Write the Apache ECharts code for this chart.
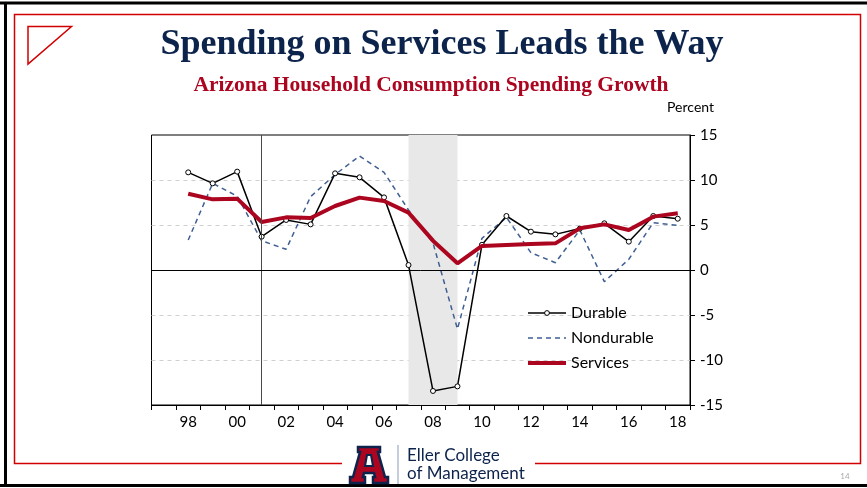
<!DOCTYPE html>
<html><head><meta charset="utf-8">
<script src="https://cdn.jsdelivr.net/npm/echarts@6/dist/echarts.min.js"></script>
<style>html,body{margin:0;padding:0;background:#fff}#c{width:867px;height:488px}</style>
</head><body><div id="c"></div>
<script>
const years = ['1997','1998','1999','2000','2001','2002','2003','2004','2005','2006','2007','2008','2009','2010','2011','2012','2013','2014','2015','2016','2017','2018'];
const durable = ['-', 10.85, 9.63, 10.93, 3.7, 5.56, 5.07, 10.74, 10.3, 8.07, 0.55, -13.44, -12.93, 2.8, 6.0, 4.26, 3.96, 4.6, 5.19, 3.15, 6.0, 5.7];
const nondurable = ['-', 3.33, 9.63, 8.2, 3.26, 2.3, 8.15, 10.6, 12.67, 10.85, 6.67, 3.0, -6.56, 3.52, 5.85, 1.93, 0.81, 4.44, -1.3, 1.19, 5.26, 4.96];
const services = ['-', 8.48, 7.85, 7.93, 5.33, 5.85, 5.78, 7.11, 8.04, 7.67, 6.37, 3.26, 0.74, 2.67, 2.78, 2.89, 2.96, 4.63, 5.07, 4.44, 5.93, 6.3];
const recession = ['2007', '2009'];
const markerYear = '2001';
const titleText = 'Spending on Services Leads the Way';
const subtitleText = 'Arizona Household Consumption Spending Growth';

const NAVY = '#0C234B', RED = '#AB0520', FRAME = '#d20000', BLUE = '#3f5f92';
const chart = echarts.init(document.getElementById('c'), null, {renderer: 'canvas'});
const sansFont = 'Lato';

chart.setOption({
  animation: false,
  backgroundColor: '#fff',
  grid: {left: 151.5, right: 177, top: 135, bottom: 83, show: true, borderColor: '#000', borderWidth: 1, containLabel: false},
  xAxis: {
    type: 'category', data: years, boundaryGap: true,
    axisLine: {show: true, onZero: false, lineStyle: {color: '#000', width: 1}},
    axisTick: {show: true, interval: 0, length: 5, lineStyle: {color: '#000'}},
    axisLabel: {interval: (i) => i % 2 === 1, formatter: (v) => v.slice(2), color: '#000', fontSize: 15, fontFamily: sansFont, margin: 10},
    splitLine: {show: false}
  },
  yAxis: {
    type: 'value', position: 'right', min: -15, max: 15, interval: 5,
    axisLine: {show: true, onZero: false, lineStyle: {color: '#000', width: 1}},
    axisTick: {show: true, length: 5, lineStyle: {color: '#000'}},
    axisLabel: {color: '#000', fontSize: 15, fontFamily: sansFont, margin: 10},
    splitLine: {show: true, lineStyle: {color: ['rgba(0,0,0,0)', '#cfcfcf', '#cfcfcf', 'rgba(0,0,0,0)', '#cfcfcf', '#cfcfcf', 'rgba(0,0,0,0)'], type: [4, 4], width: 1}}
  },
  legend: {
    orient: 'vertical', left: 521, top: 300, itemWidth: 38, itemHeight: 6, itemGap: 9,
    textStyle: {fontSize: 16, color: '#000', fontFamily: sansFont},
    data: [
      {name: 'Durable', lineStyle: {width: 1.5, color: '#000'}, itemStyle: {color: '#fff', borderColor: '#000', borderWidth: 1}},
      {name: 'Nondurable', lineStyle: {width: 1.5, color: BLUE, type: [5, 4]}, itemStyle: {color: 'rgba(0,0,0,0)', borderColor: 'rgba(0,0,0,0)', borderWidth: 0}},
      {name: 'Services', lineStyle: {width: 4, color: RED}, itemStyle: {color: 'rgba(0,0,0,0)', borderColor: 'rgba(0,0,0,0)', borderWidth: 0}}
    ]
  },
  series: [
    {type: 'line', name: 'shade', data: [], z: 1, silent: true,
     markArea: {silent: true, itemStyle: {color: '#e8e8e8'}, data: [[{xAxis: recession[0]}, {xAxis: recession[1]}]]}},
    {type: 'line', name: 'refs', data: [], z: 1.5, silent: true,
     markLine: {silent: true, symbol: ['none', 'none'], label: {show: false},
       data: [
         {xAxis: markerYear, lineStyle: {color: '#4a4a4a', width: 1, type: 'solid'}},
         {yAxis: 0, lineStyle: {color: '#000', width: 1, type: 'solid'}}
       ]}},
    {type: 'line', name: 'Nondurable', data: nondurable, symbol: 'none', z: 2,
     lineStyle: {color: BLUE, width: 1.5, type: [5, 4]}, itemStyle: {color: BLUE}},
    {type: 'line', name: 'Durable', data: durable, symbol: 'circle', symbolSize: 5, showSymbol: true, z: 3,
     lineStyle: {color: '#000', width: 1.5}, itemStyle: {color: '#fff', borderColor: '#000', borderWidth: 1}},
    {type: 'line', name: 'Services', data: services, symbol: 'none', z: 4,
     lineStyle: {color: RED, width: 4}, itemStyle: {color: RED}}
  ],
  graphic: [
    {type: 'polyline', silent: true, z: 10, shape: {points: [[342,463.5],[14.5,463.5],[14.5,14.5],[860.5,14.5],[860.5,463.5],[535,463.5]]}, style: {stroke: FRAME, lineWidth: 1.5, fill: null}},
    {type: 'polygon', silent: true, z: 10, shape: {points: [[28,26.5],[71.5,26.5],[28,64]]}, style: {stroke: FRAME, lineWidth: 1.5, fill: null}},
    {type: 'line', silent: true, z: 10, shape: {x1: 0, y1: 3, x2: 867, y2: 3}, style: {stroke: '#000', lineWidth: 3}},
    {type: 'line', silent: true, z: 10, shape: {x1: 5.5, y1: 2, x2: 5.5, y2: 487}, style: {stroke: '#000', lineWidth: 3}},
    {type: 'line', silent: true, z: 10, shape: {x1: 0, y1: 485.5, x2: 867, y2: 485.5}, style: {stroke: '#000', lineWidth: 3}},
    {type: 'text', silent: true, z: 10, style: {text: titleText, x: 442, y: 45, fill: NAVY, font: 'bold 36px "Liberation Serif"', align: 'center', verticalAlign: 'middle', textAlign: 'center', textVerticalAlign: 'middle'}},
    {type: 'text', silent: true, z: 10, style: {text: subtitleText, x: 431, y: 85, fill: RED, font: 'bold 21.5px "Liberation Serif"', align: 'center', verticalAlign: 'middle', textAlign: 'center', textVerticalAlign: 'middle'}},
    {type: 'text', silent: true, z: 10, style: {text: 'Percent', x: 714, y: 107, fill: '#000', font: '14px Lato', align: 'right', verticalAlign: 'middle', textAlign: 'right', textVerticalAlign: 'middle'}},
    {type: 'text', silent: true, z: 10, style: {text: '14', x: 845, y: 476, fill: '#aaa', font: '8px Lato', align: 'center', verticalAlign: 'middle', textAlign: 'center', textVerticalAlign: 'middle'}},
    {type: 'polygon', silent: true, z: 10, shape: {points: [[358,447],[380,447],[380,452],[378,452],[385,477],[388,477],[388,483],[373,483],[373,477],[375,477],[374,473],[364,473],[363,477],[365,477],[365,483],[350,483],[350,477],[353,477],[360,452],[358,452]]}, style: {fill: RED, stroke: NAVY, lineWidth: 2.5}},
    {type: 'polygon', silent: true, z: 11, shape: {points: [[367,455],[371,455],[373,466],[365,466]]}, style: {fill: '#fff', stroke: NAVY, lineWidth: 2}},
    {type: 'line', silent: true, z: 10, shape: {x1: 398, y1: 445, x2: 398, y2: 484}, style: {stroke: '#8a9bb5', lineWidth: 1}},
    {type: 'text', silent: true, z: 10, style: {text: 'Eller College', x: 407, y: 456, fill: NAVY, font: '17px Lato', align: 'left', verticalAlign: 'middle', textAlign: 'left', textVerticalAlign: 'middle'}},
    {type: 'text', silent: true, z: 10, style: {text: 'of Management', x: 407, y: 474, fill: NAVY, font: '17px Lato', align: 'left', verticalAlign: 'middle', textAlign: 'left', textVerticalAlign: 'middle'}}
  ]
});
</script></body></html>
